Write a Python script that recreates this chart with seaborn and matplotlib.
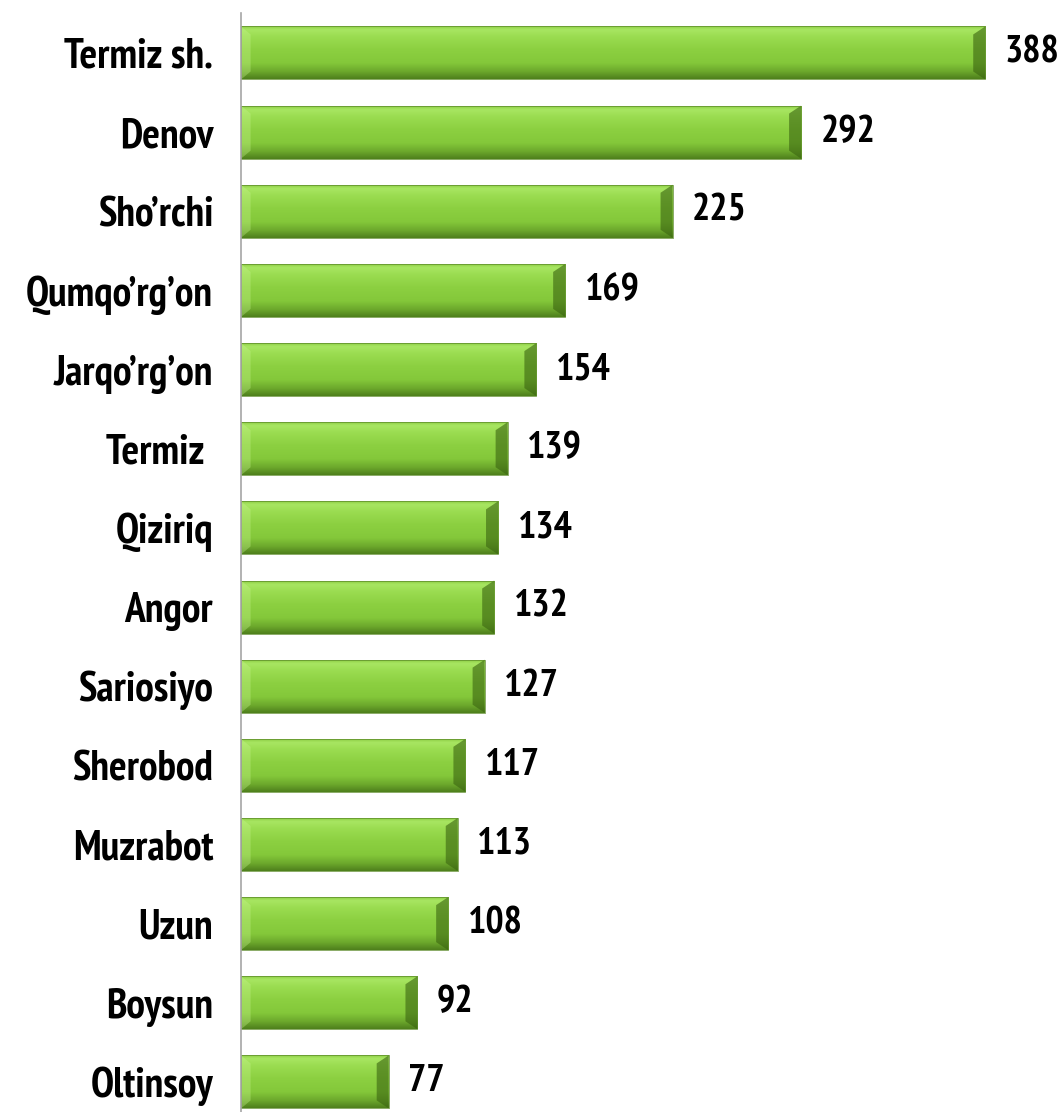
import matplotlib
matplotlib.use("Agg")
import matplotlib.pyplot as plt
import seaborn as sns
import pandas as pd
import numpy as np
from matplotlib.patches import Polygon
from matplotlib.colors import LinearSegmentedColormap
from matplotlib import font_manager
from matplotlib.font_manager import FontProperties

categories = ["Termiz sh.", "Denov", "Sho’rchi", "Qumqo’rg’on", "Jarqo’rg’on", "Termiz ",
              "Qiziriq", "Angor", "Sariosiyo", "Sherobod", "Muzrabot", "Uzun", "Boysun", "Oltinsoy"]
values = [388, 292, 225, 169, 154, 139, 134, 132, 127, 117, 113, 108, 92, 77]

sns.set_theme(style="white")
plt.rcParams["font.family"] = ["Liberation Sans", "DejaVu Sans"]

# look for a condensed bold sans face
def _score(f):
    n = (f.name + " " + f.fname).lower()
    cond = ("narrow" in n) or ("condensed" in n and "extra" not in n and "semi" not in n and "ultra" not in n)
    if not cond:
        return None
    w = f.weight if isinstance(f.weight, int) else {"bold": 700, "normal": 400}.get(str(f.weight), 400)
    if "italic" in n or f.style != "normal":
        return None
    s = abs(w - 700)
    if "narrow" in n:
        s -= 50
    if "mono" in n or "serif" in n.replace("sans", ""):
        s += 500
    return s

cands = [(s, f) for f in font_manager.fontManager.ttflist if (s := _score(f)) is not None]
cands.sort(key=lambda t: t[0])
if cands:
    fp = FontProperties(fname=cands[0][1].fname, size=30)
    num_fp = FontProperties(fname=cands[0][1].fname, size=27.5)
else:
    fp = FontProperties(family=["Liberation Sans"], weight="bold", size=23)
    num_fp = FontProperties(family=["Liberation Sans"], weight="bold", size=23)

W, H = 1060, 1112
fig = plt.figure(figsize=(W / 100, H / 100), dpi=100)
ax = fig.add_axes([241 / W, 0, (1046.6 - 241) / W, (H - 13.4) / H])

df = pd.DataFrame({"region": categories, "value": values})
sns.barplot(data=df, x="value", y="region", orient="h", color="#8BD03F",
            width=0.67, ax=ax, saturation=1, edgecolor="none")

XLIM = (0, 420)
YLIM = (13.38, -0.5)

px_x = 420 / (1046.6 - 241)
px_y = 13.88 / (H - 13.4)
bx = 12 * px_x
by = 8 * px_y

cmap = LinearSegmentedColormap.from_list("barg", [
    (0.0, "#86C63C"), (0.08, "#A8E662"), (0.22, "#9ADC50"), (0.45, "#8CD041"),
    (0.70, "#84C83A"), (0.86, "#6CA82C"), (1.0, "#4E7F1C")])
grad = np.linspace(0, 1, 256).reshape(-1, 1)

for p in list(ax.patches):
    x0 = p.get_x(); x1 = x0 + p.get_width()
    yt = p.get_y(); yb = yt + p.get_height()
    im = ax.imshow(grad, cmap=cmap, aspect="auto", extent=(x0, x1, yb, yt),
                   origin="upper", zorder=2, interpolation="bilinear")
    im.set_clip_path(p)
    # left bevel (lighter) and right bevel (darker)
    ax.add_patch(Polygon([(x0, yt), (x0 + bx * 0.8, yt + by), (x0 + bx * 0.8, yb - by), (x0, yb)],
                         closed=True, facecolor="#C8F590", alpha=0.35, edgecolor="none", zorder=3))
    ax.add_patch(Polygon([(x1, yt), (x1 - bx, yt + by), (x1 - bx, yb - by), (x1, yb)],
                         closed=True, facecolor="#3A6410", alpha=0.6, edgecolor="none",
                         lw=0, antialiased=True, zorder=3))
    ax.add_patch(Polygon([(x0, yt), (x1, yt), (x1, yb), (x0, yb)], closed=True,
                         facecolor="none", edgecolor="#5C8A2A", lw=0.5, zorder=4))

ax.set_xlim(*XLIM)
ax.set_ylim(*YLIM)

ax.bar_label(ax.containers[0], labels=[str(v) for v in values], padding=14,
             fontproperties=num_fp, color="black")

for s in ["top", "right", "bottom"]:
    ax.spines[s].set_visible(False)
ax.spines["left"].set_color("#A6A6A6")
ax.spines["left"].set_linewidth(1.2)
ax.spines["left"].set_zorder(5)
ax.set_xlabel("")
ax.set_ylabel("")
ax.set_xticks([])
ax.tick_params(axis="y", length=0, pad=20)
for t in ax.get_yticklabels():
    t.set_fontproperties(fp)
    t.set_color("black")

fig.savefig("out.png", dpi=100)
